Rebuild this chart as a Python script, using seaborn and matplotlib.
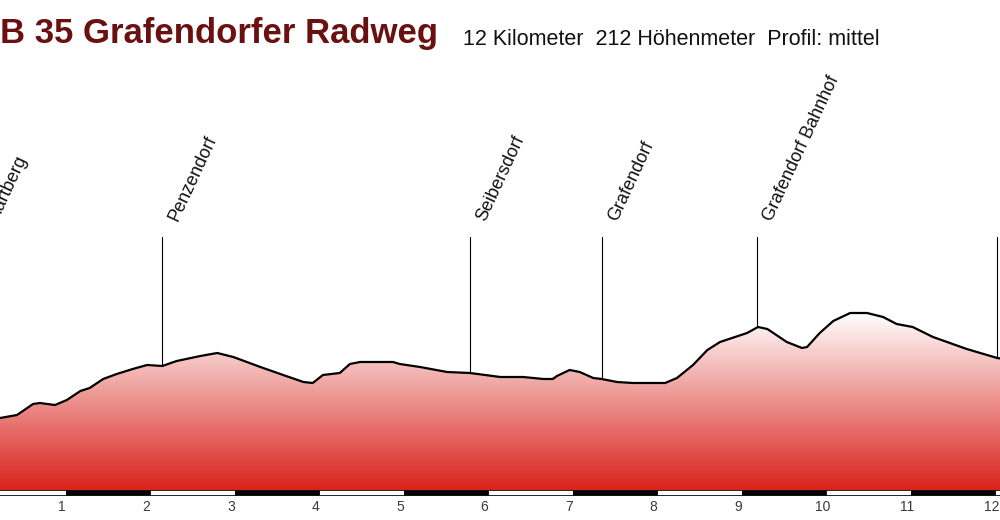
import numpy as np
import matplotlib
matplotlib.use("Agg")
import matplotlib.pyplot as plt
import matplotlib.transforms as mtransforms
import seaborn as sns
from matplotlib.colors import LinearSegmentedColormap

sns.set_theme(style="white")
plt.rcParams['font.family'] = ['Liberation Sans', 'DejaVu Sans']

# elevation profile (km, m)
km = [0.0, 0.22, 0.42, 0.61, 0.69, 0.87, 1.01, 1.17, 1.28, 1.44, 1.60, 1.79, 1.96,
      2.14, 2.31, 2.59, 2.79, 2.98, 3.30, 3.57, 3.81, 3.92, 4.04, 4.24, 4.36, 4.48,
      4.87, 4.95, 5.19, 5.51, 5.78, 6.14, 6.41, 6.65, 6.76, 6.81, 6.96, 7.08, 7.24,
      7.34, 7.52, 7.71, 8.09, 8.23, 8.42, 8.59, 8.74, 9.06, 9.19, 9.30, 9.53, 9.71,
      9.77, 9.92, 10.08, 10.28, 10.48, 10.67, 10.83, 11.02, 11.26, 11.66, 12.02, 12.1]
elev = [360, 362, 365, 376, 377, 375, 380, 389, 392, 401, 406, 411, 415,
        414, 419, 424, 427, 423, 413, 405, 398, 397, 405, 407, 416, 418,
        418, 416, 413, 408, 407, 403, 403, 401, 401, 404, 410, 408, 402,
        401, 398, 397, 397, 402, 415, 430, 438, 447, 453, 451, 438, 432,
        433, 447, 459, 467, 467, 463, 456, 453, 443, 431, 422, 421]

# waypoints
places = ["Hartberg", "Penzendorf", "Seibersdorf", "Grafendorf", "Grafendorf Bahnhof", "Lafnitz"]
place_km = [0.0, 2.14, 5.78, 7.34, 9.18, 12.02]

km_ticks = list(range(1, 13))

title = "B 35 Grafendorfer Radweg"
subtitle = "12 Kilometer  212 Höhenmeter  Profil: mittel"

fig = plt.figure(figsize=(10, 5.2), dpi=100)
ax = fig.add_axes([0, 24 / 520, 1, 496 / 520])
x0, x1 = 0.219, 0.219 + 1000 / 84.5
y0, y1 = 284, 780
ax.set_xlim(x0, x1)
ax.set_ylim(y0, y1)

base = 290
# gradient fill under the profile
cmap = LinearSegmentedColormap.from_list("prof", ["#d9221a", "#ffffff"])
grad = np.linspace(0, 1, 256).reshape(-1, 1)
fill = ax.fill_between(km, elev, base, color="none", lw=0)
img = ax.imshow(grad, cmap=cmap, origin="lower", aspect="auto",
                extent=[0, 12.1, base, max(elev)], zorder=1)
path = fill.get_paths()[0]
img.set_clip_path(path, transform=ax.transData)
sns.lineplot(x=km, y=elev, ax=ax, color="black", lw=1.6, sort=False, zorder=3)

# waypoint markers
line_top = 543
for name, k in zip(places, place_km):
    e = np.interp(k, km, elev)
    ax.plot([k, k], [e, line_top], color="black", lw=0.8, zorder=2)
    ax.annotate(name, xy=(k, line_top), xytext=(11, 11), textcoords="offset points",
                rotation=65, rotation_mode="anchor", ha="left", va="baseline",
                fontsize=13, color="#111111", annotation_clip=False)

# km scale band
for i in range(13):
    ax.bar(i + 0.5, 5, width=1, bottom=base - 5,
           color="white" if i % 2 == 0 else "black",
           edgecolor="black", lw=0.6, zorder=2)

ax.set_xticks(km_ticks)
ax.set_xticklabels([str(t) for t in km_ticks])
ax.tick_params(axis="x", length=0, pad=3, labelsize=10, labelcolor="#3a3a3a")
# labels sit a little left of the band joints
shift = mtransforms.ScaledTranslation(-3 / 72, 0, fig.dpi_scale_trans)
for lbl in ax.get_xticklabels():
    lbl.set_transform(lbl.get_transform() + shift)
ax.set_yticks([])
for s in ax.spines.values():
    s.set_visible(False)

fig.text(0.0, 1 - 43 / 520, title, fontsize=25, fontweight="bold",
         color="#6b1010", va="baseline", ha="left")
fig.text(463 / 1000, 1 - 45 / 520, subtitle, fontsize=15.5,
         color="#111111", va="baseline", ha="left")

fig.savefig("out.png", dpi=100)
